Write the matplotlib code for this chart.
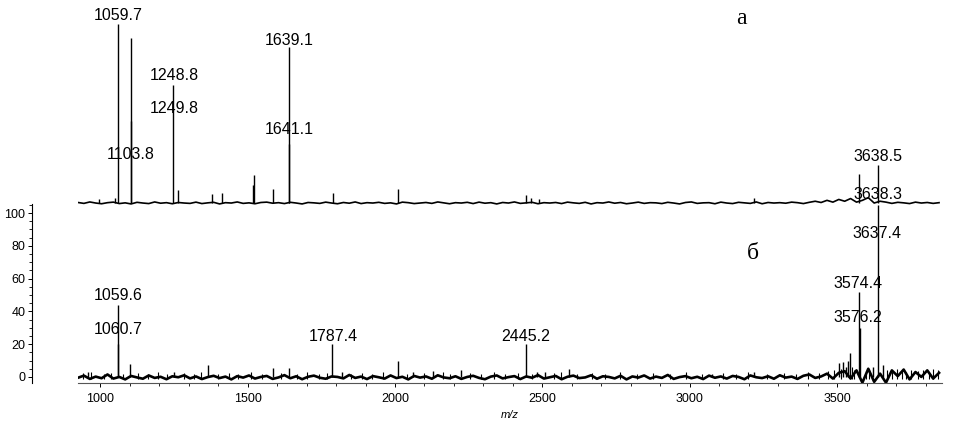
import numpy as np
import matplotlib
matplotlib.use('Agg')
import matplotlib.pyplot as plt
from matplotlib.ticker import MultipleLocator

# спектр "а" (верхний): положения пиков и интенсивности, %
peaks_a_mz = [997, 1050, 1059.7, 1103.8, 1104.8, 1248.8, 1265, 1380, 1413, 1517, 1521,
              1586, 1639.1, 1641.1, 1789, 2010, 2444, 2460, 2490, 3217, 3574, 3638.5]
peaks_a_int = [2.5, 3, 100, 92, 46, 66, 7, 5, 5.5, 10, 15.5,
               8, 87, 33, 5.5, 8, 4.5, 3, 2.5, 3, 16, 21]

# спектр "б" (нижний)
peaks_b_mz = [960, 1059.6, 1060.7, 1102, 1251, 1367, 1586, 1640, 1787.4, 1820, 2010, 2060,
              2130, 2225, 2445.2, 2480, 2510, 2590, 3074, 3217, 3505, 3520, 3528, 3536,
              3543, 3574.4, 3576.2, 3620, 3637.4, 3654]
peaks_b_int = [3, 44, 20, 8, 3, 7, 5.5, 5.5, 20, 3, 10, 3,
               3.5, 4, 20, 3, 3, 5, 2, 3, 8.5, 9, 6, 9.5,
               14.5, 52, 30, 6, 105, 7]

# мелкие шумовые пики нижнего спектра
grass_b_mz = [942, 968, 1012, 1036, 1078, 1128, 1163, 1197, 1228, 1284, 1318, 1342, 1401,
              1437, 1466, 1512, 1548, 1612, 1668, 1702, 1741, 1768, 1852, 1889, 1921, 1958,
              2041, 2097, 2163, 2188, 2256, 2291, 2337, 2372, 2418, 2466, 2538, 2562, 2617,
              2668, 2712, 2763, 2821, 2876, 2932, 2988, 3041, 3112, 3158, 3196, 3262, 3318,
              3361, 3402, 3437, 3468, 3489, 3512, 3551, 3558, 3597, 3608, 3668, 3684, 3702,
              3718, 3733, 3751, 3772, 3790, 3811, 3826, 3843]
grass_b_int = [2.5, 3, 2, 2.5, 2, 2.5, 2, 3, 2, 2.5, 2, 3, 2,
               2.5, 2, 3, 2, 2.5, 2, 3, 2, 2.5, 2, 2.5, 2, 3,
               2, 2.5, 3, 2, 2.5, 2, 3, 2, 2.5, 2, 2.5, 3, 2,
               2.5, 2, 3, 2, 2.5, 2, 3, 2, 2.5, 2, 3, 2, 2.5,
               2, 3, 2.5, 3.5, 4, 5, 6, 4, 3.5, 5, 4.5, 3, 5,
               4, 3, 4.5, 3.5, 4, 3, 5, 4]

# шум базовой линии (шаг 20 по m/z начиная с 925)
noise_a = [
    0.3, -0.2, 0.6, 0.0, -0.4, 0.2, 0.5, -0.3, 0.1, -0.5,
    0.4, 0.0, -0.3, 0.6, -0.1, 0.2, -0.4, 0.3, 0.0, -0.2,
    0.5, -0.3, 0.1, 0.4, -0.5, 0.2, 0.0, 0.6, -0.2, 0.1,
    -0.4, 0.3, 0.5, -0.1, 0.2, -0.3, 0.4, 0.0, -0.5, 0.3,
    0.1, -0.2, 0.5, 0.0, -0.4, 0.3, -0.1, 0.6, -0.3, 0.2,
    0.0, 0.4, -0.2, 0.1, -0.5, 0.5, 0.2, -0.3, 0.0, 0.3,
    -0.2, 0.6, 0.1, -0.4, 0.2, 0.0, 0.4, -0.3, 0.5, -0.1,
    0.2, -0.5, 0.3, 0.0, 0.6, -0.2, 0.1, 0.4, -0.4, 0.2,
    0.0, 0.3, -0.3, 0.5, 0.1, -0.2, 0.4, -0.5, 0.2, 0.0,
    0.6, -0.1, 0.3, -0.4, 0.0, 0.5, -0.2, 0.2, 0.1, -0.3,
    0.4, 0.0, -0.5, 0.3, 0.6, -0.2, 0.1, 0.2, -0.4, 0.5,
    0.0, -0.3, 0.4, 0.1, -0.2, 0.6, -0.4, 0.3, 0.0, 0.2,
    -0.1, 0.5, 0.2, -0.3, 0.4, 1.0, 0.3, 1.5, 0.5, 2.0,
    1.0, 2.5, 0.5, 1.5, 3.0, 0.0, 1.0, 0.5, -0.2, 0.4,
    0.1, -0.3, 0.5, 0.0, 0.3, -0.2, 0.2,
]
noise_b = [
    -0.5, 0.8, -1.2, 0.2, -0.8, 1.5, -1.0, 0.0, -1.5, 0.6,
    -0.3, -1.1, 0.9, -0.6, 0.1, -1.4, 0.4, -0.2, 1.0, -0.9,
    0.3, -1.3, -0.1, 0.7, -0.7, 0.2, -1.5, 0.5, -0.4, 0.9,
    -1.0, 0.0, 0.6, -1.2, -0.3, 1.1, -0.8, 0.4, -1.4, 0.1,
    0.8, -0.5, -1.1, 0.3, 0.0, -0.9, 1.2, -0.6, 0.2, -1.3,
    0.5, -0.2, -1.0, 0.9, -0.7, 0.1, -1.5, 0.6, -0.4, 0.3,
    -1.1, 1.0, -0.3, -0.8, 0.4, -1.2, 0.0, 0.7, -0.6, -1.4,
    0.2, 0.9, -0.9, -0.1, 0.5, -1.3, 0.3, -0.5, 1.1, -1.0,
    -0.2, 0.6, -1.4, 0.1, 0.8, -0.7, -0.3, 1.0, -1.1, 0.4,
    0.0, -0.9, 0.7, -1.5, 0.3, -0.4, 0.9, -1.0, 0.2, -0.6,
    1.2, -1.2, -0.1, 0.5, -0.8, 0.1, -1.3, 0.8, -0.5, 0.3,
    -1.0, 0.6, 0.0, -1.4, 0.9, -0.2, -0.7, 0.4, -1.1, 1.0,
    -0.4, 0.2, -1.2, 0.7, 1.5, -0.6, 0.3, 2.0, -1.0, 2.5,
    3.5, -1.0, 4.0, -3.5, 5.0, -3.0, 2.0, -3.5, 4.0, 0.5,
    4.5, -1.5, 3.0, 0.0, 4.0, -1.0, 2.5,
]

labels_a = ['1059.7', '1248.8', '1249.8', '1103.8', '1639.1', '1641.1', '3638.5', '3638.3']
labels_b = ['1059.6', '1060.7', '1787.4', '2445.2', '3637.4', '3574.4', '3576.2']

# размещение подписей (в координатах данных)
lab_a_x = [1061, 1251, 1251, 1105, 1640, 1640, 3637, 3637]
lab_a_y = [105, 71, 53, 27, 91, 41, 26, 4.5]
lab_b_x = [1062, 1062, 1790, 2444, 3634, 3570, 3570]
lab_b_y = [49.4, 28.7, 24.4, 24.4, 87.8, 57, 36]

plt.rcParams['font.family'] = ['Liberation Sans', 'DejaVu Sans']

W, H = 956, 424
fig = plt.figure(figsize=(W / 100, H / 100), dpi=100)


def px_axes(x0, y0, x1, y1):  # прямоугольник в пикселях (от верхнего левого угла)
    return fig.add_axes([x0 / W, 1 - y1 / H, (x1 - x0) / W, (y1 - y0) / H])


xlim = (925, 3855)
ax_a = px_axes(78, 10, 942, 205)
ax_b = px_axes(78, 204, 942, 383)

for ax, mz, inten, noise, lw in ((ax_a, peaks_a_mz, peaks_a_int, noise_a, 1.2),
                                 (ax_b, peaks_b_mz, peaks_b_int, noise_b, 1.9)):
    nmz = 925 + 20 * np.arange(len(noise))
    ax.plot(nmz, noise, color='black', lw=lw)
    ax.vlines(mz, 0, inten, color='black', lw=1.0)
    ax.set_xlim(*xlim)
    ax.patch.set_alpha(0)

ax_b.vlines(grass_b_mz, -1.5, grass_b_int, color='black', lw=0.8)

# верхний: без осей
ax_a.set_ylim(-1.1, 107.8)
ax_a.axis('off')
for s, x, y in zip(labels_a, lab_a_x, lab_a_y):
    ax_a.text(x, y, s, ha='center', va='center', fontsize=11.5)
ax_a.text(3176, 103, 'а', ha='center', va='center', fontsize=17,
          family=['Liberation Serif', 'DejaVu Serif'])

# нижний
ax_b.set_ylim(-3.7, 105.5)
ax_b.spines['top'].set_visible(False)
ax_b.spines['right'].set_visible(False)
ax_b.spines['left'].set_position(('outward', 33))
ax_b.spines['left'].set_linewidth(0.8)
ax_b.spines['bottom'].set_linewidth(0.8)
ax_b.spines['bottom'].set_color('#555555')
ax_b.yaxis.set_major_locator(MultipleLocator(20))
ax_b.yaxis.set_minor_locator(MultipleLocator(5))
ax_b.xaxis.set_minor_locator(MultipleLocator(100))
ax_b.set_xticks([1000, 1500, 2000, 2500, 3000, 3500])
ax_b.tick_params(which='major', direction='out', length=3, width=0.7, labelsize=9, pad=2)
ax_b.tick_params(which='minor', direction='out', length=2, width=0.6)
ax_b.tick_params(axis='x', which='major', pad=4)
ax_b.set_xlabel('m/z', fontsize=8, style='italic', labelpad=4)
for s, x, y in zip(labels_b, lab_b_x, lab_b_y):
    ax_b.text(x, y, s, ha='center', va='center', fontsize=11.5)
ax_b.text(3213, 75.6, 'б', ha='center', va='center', fontsize=17,
          family=['Liberation Serif', 'DejaVu Serif'])

fig.savefig('out.png', dpi=100)
